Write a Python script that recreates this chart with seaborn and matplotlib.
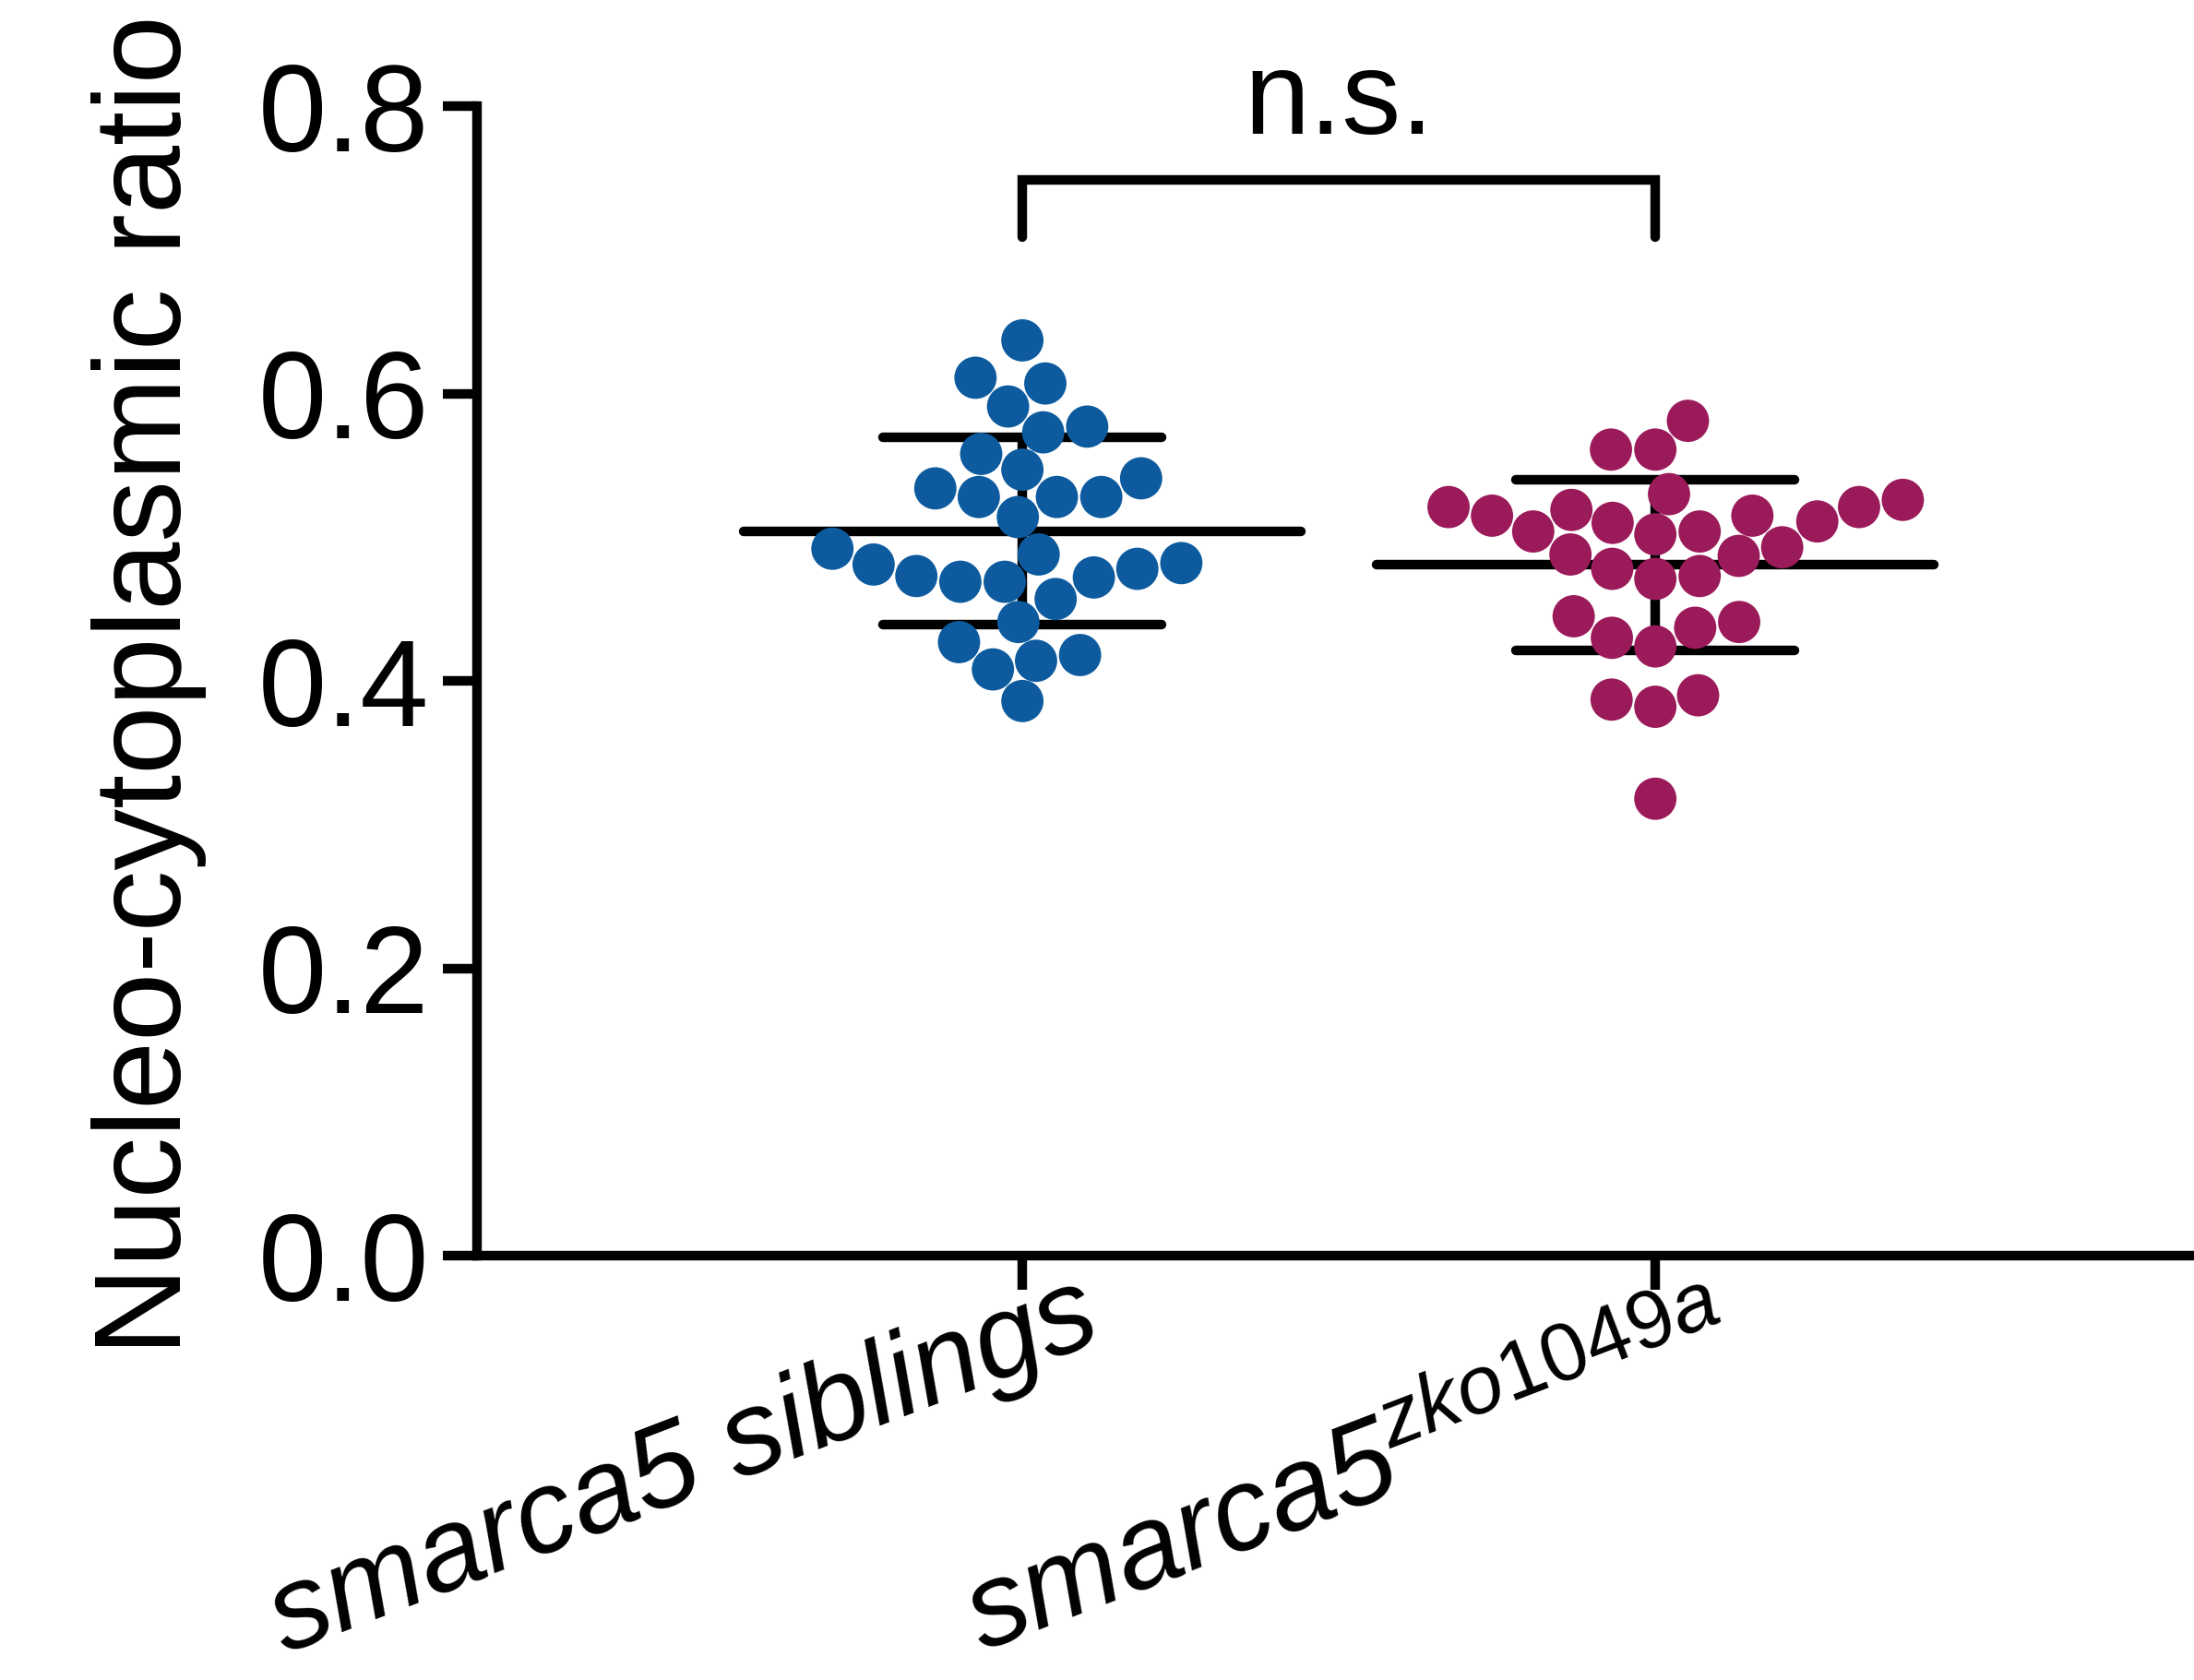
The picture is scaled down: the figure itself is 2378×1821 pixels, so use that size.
import numpy as np
import pandas as pd
import matplotlib
matplotlib.use("Agg")
import matplotlib.pyplot as plt
import matplotlib.transforms as mtransforms
from matplotlib.ticker import FormatStrFormatter
import seaborn as sns

# ---- data -------------------------------------------------------------
groups = ["smarca5 siblings", "smarca5 zko1049a"]
tick_labels = ["smarca5 siblings", r"smarca5$^{\mathit{zko1049a}}$"]

siblings = [0.637, 0.611, 0.607, 0.591, 0.573, 0.577, 0.558, 0.547, 0.534, 0.528,
            0.541, 0.528, 0.528, 0.514, 0.481, 0.473, 0.469, 0.457, 0.488, 0.492,
            0.469, 0.472, 0.478, 0.482, 0.427, 0.441, 0.414, 0.408, 0.418, 0.386]

mutants = [0.581, 0.561, 0.561,
           0.526, 0.521, 0.515, 0.510, 0.504, 0.502, 0.488, 0.487, 0.493, 0.504,
           0.511, 0.515, 0.519, 0.521, 0.530,
           0.473, 0.471, 0.478, 0.445, 0.437, 0.441, 0.424, 0.430, 0.387, 0.382,
           0.390, 0.318]

yticks = [0.0, 0.2, 0.4, 0.6, 0.8]
ylabel = "Nucleo-cytoplasmic ratio"
sig_label = "n.s."
palette = ["#0d5b9e", "#9b1a5a"]

df = pd.DataFrame({
    "group": [groups[0]] * len(siblings) + [groups[1]] * len(mutants),
    "ratio": siblings + mutants,
})

# ---- style ------------------------------------------------------------
sns.set_theme(style="ticks")
plt.rcParams["font.family"] = ["Liberation Sans", "DejaVu Sans"]
plt.rcParams["mathtext.fontset"] = "custom"
plt.rcParams["mathtext.rm"] = "Liberation Sans"
plt.rcParams["mathtext.it"] = "Liberation Sans:italic"
for key in ("text.color", "axes.labelcolor", "xtick.color", "ytick.color",
            "axes.edgecolor"):
    plt.rcParams[key] = "black"

LW = 7.5
fig = plt.figure(figsize=(23.78, 18.21), dpi=100)
ax = fig.add_axes([0.2174, 0.2526, 0.7826, 0.6842])

# mean and SD bars
stats = df.groupby("group", sort=False)["ratio"].agg(["mean", "std"])
for i, (m, s) in enumerate(zip(stats["mean"], stats["std"])):
    ax.hlines(m, i - 0.44, i + 0.44, color="black", lw=LW, zorder=2, capstyle="round")
    ax.hlines([m - s, m + s], i - 0.22, i + 0.22, color="black", lw=LW, zorder=2,
              capstyle="round")
    ax.vlines(i, m - s, m + s, color="black", lw=LW, zorder=2)

# individual measurements
sns.swarmplot(data=df, x="group", y="ratio", hue="group", palette=palette,
              order=groups, size=33, linewidth=0, legend=False, ax=ax, zorder=3,
              warn_thresh=1.0)

# axes
ax.set_xlim(-0.8617, 1.851)
ax.set_ylim(0, 0.8)
ax.set_yticks(yticks)
ax.yaxis.set_major_formatter(FormatStrFormatter("%.1f"))
sns.despine(ax=ax)
for side in ("left", "bottom"):
    ax.spines[side].set_linewidth(LW)
    ax.spines[side].set_color("black")
ax.tick_params(axis="both", length=26.6, width=LW, color="black", labelcolor="black")
ax.tick_params(axis="y", labelsize=96, pad=10.8)
ax.tick_params(axis="x", pad=0)

ax.set_xticks([0, 1])
ax.set_xticklabels(tick_labels, rotation=21, rotation_mode="anchor",
                   ha="center", va="baseline", fontsize=92, fontstyle="italic")
label_shifts = [(-3.55, -2.24), (-3.20, -2.36)]
for lab, (dx, dy) in zip(ax.get_xticklabels(), label_shifts):
    lab.set_transform(lab.get_transform()
                      + mtransforms.ScaledTranslation(dx, dy, fig.dpi_scale_trans))

ax.set_xlabel("")
ax.set_ylabel(ylabel, fontsize=96)
ax.yaxis.set_label_coords(-0.1574, 0.496)

# significance bracket
ax.plot([0, 0, 1, 1], [0.709, 0.749, 0.749, 0.709], color="black", lw=LW,
        solid_capstyle="round", solid_joinstyle="miter", clip_on=False)
ax.text(0.5, 0.781, sig_label, ha="center", va="baseline", fontsize=92)

fig.savefig("out.png", dpi=100)
